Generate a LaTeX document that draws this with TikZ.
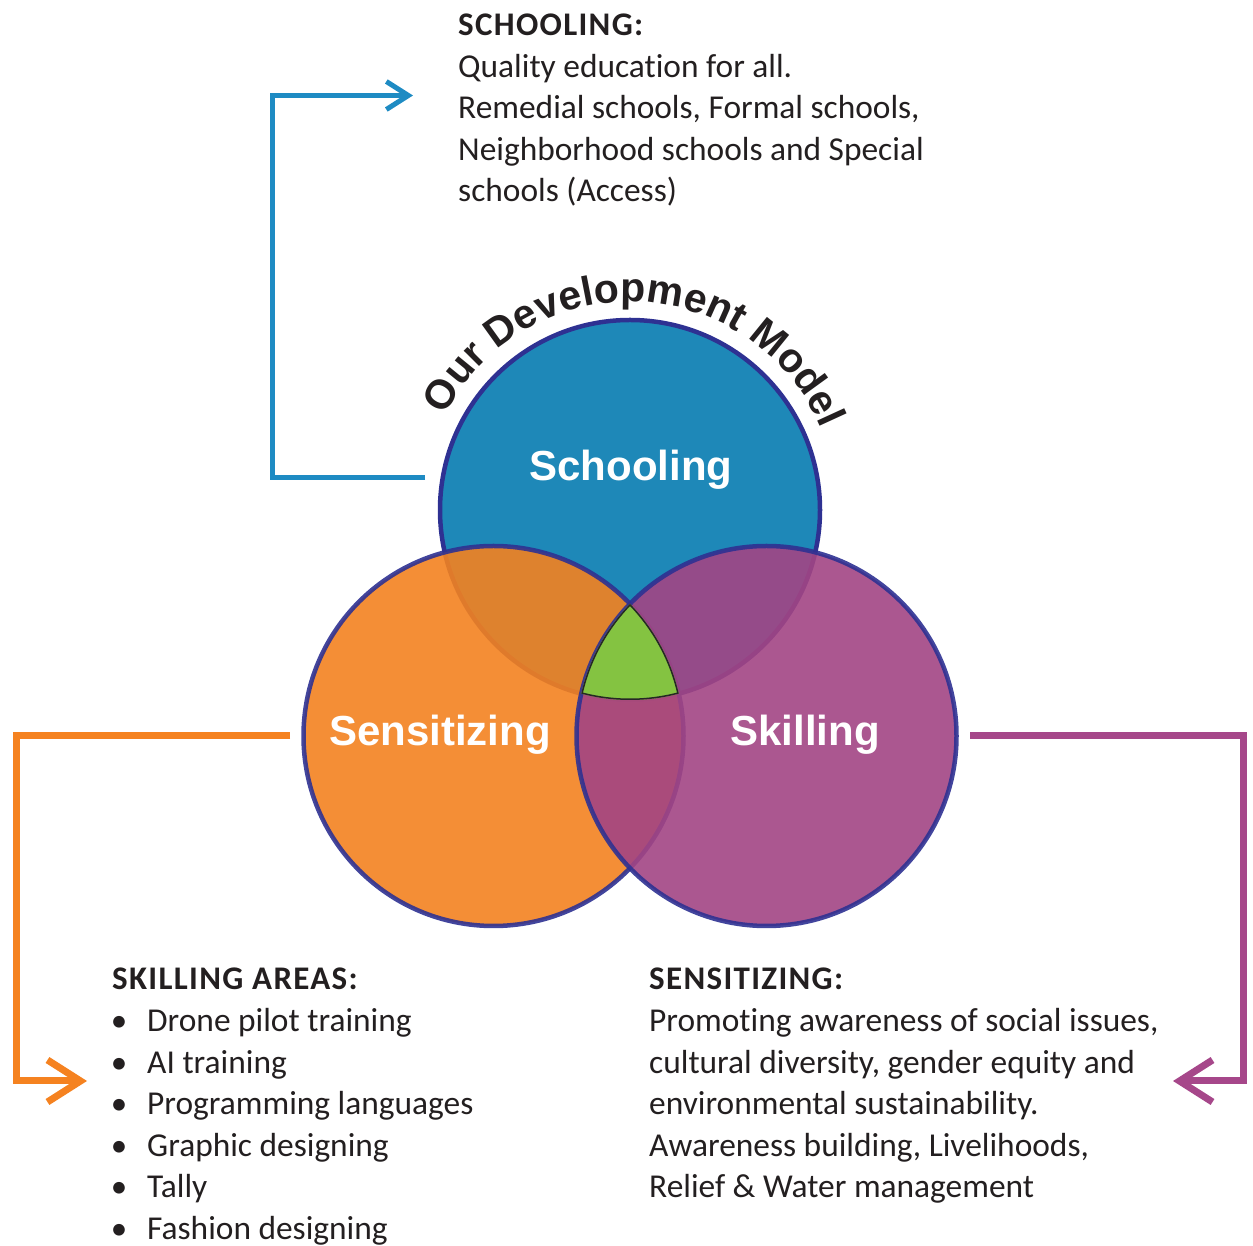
\documentclass[tikz,border=0pt]{standalone}
\usepackage{fontspec}
\setmainfont{Carlito}
\newfontfamily\bodyfont{Carlito}[Ligatures=NoCommon]
\newfontfamily\headfont{Carlito}[LetterSpace=4,Ligatures=NoCommon]
\newfontfamily\arialfont{Liberation Sans}
\usetikzlibrary{arrows.meta,decorations.text}
\definecolor{cblue}{HTML}{1E88B8}
\definecolor{corange}{HTML}{F38220}
\definecolor{cpurple}{HTML}{A24584}
\definecolor{cedge}{HTML}{2E3192}
\definecolor{cgreen}{HTML}{84C341}
\definecolor{ctext}{HTML}{231F20}
\definecolor{ablue}{HTML}{1E8BC3}
\definecolor{aorange}{HTML}{F58220}
\definecolor{apurple}{HTML}{A6478A}
\tikzset{
  venn/.style={circle, minimum size=380pt, inner sep=0pt, outer sep=0pt, draw=cedge, line width=4.5pt},
  lbl/.style={anchor=base, inner sep=0pt, text=white, font=\arialfont\bfseries\fontsize{42}{44}\selectfont},
  body/.style={anchor=base west, inner sep=0pt, text=ctext, font=\bodyfont\fontsize{33.4}{40}\selectfont},
  head/.style={anchor=base west, inner sep=0pt, text=ctext, font=\headfont\bfseries\fontsize{33}{40}\selectfont},
  bul/.style={anchor=base, inner sep=0pt, text=ctext, font=\bodyfont\fontsize{33}{40}\selectfont},
  conn/.style={line join=miter},
}
\begin{document}
\begin{tikzpicture}[x=1pt,y=1pt]
\useasboundingbox (0,0) rectangle (1253,1245);
% circles
\node[venn, fill=cblue] (schC) at (630,735) {};
\node[venn, fill=corange, fill opacity=0.9, draw opacity=0.9] (senC) at (493.5,509) {};
\node[venn, fill=cpurple, fill opacity=0.9, draw opacity=0.9] (skiC) at (766.5,509) {};
% centre
\begin{scope}
  \clip (630,735) circle (190);
  \clip (493.5,509) circle (190);
  \clip (766.5,509) circle (190);
  \fill[cgreen] (630,735) circle (190);
  \draw[black!85, line width=3pt] (630,735) circle (190) (493.5,509) circle (190) (766.5,509) circle (190);
\end{scope}
% labels
\node[lbl] (schL) at (631,764) {Schooling};
\node[lbl] (senL) at (440,499) {Sensitizing};
\node[lbl] (skiL) at (805,499) {Skilling};
% title on arc
\path[decorate, decoration={text along path, text align=center,
  text={|\arialfont\bfseries\fontsize{41}{44}\selectfont\color{ctext}|Our Development Model}}]
  (630,735) ++(178:208) arc[start angle=178, end angle=-2, radius=208];
% schooling text
\node[head] (t1) at (458,1209) {SCHOOLING:};
\node[body] (t2) at (458,1167) {Quality education for all.};
\node[body] (t3) at (458,1126) {Remedial schools, Formal schools,};
\node[body] (t4) at (458,1084) {Neighborhood schools and Special};
\node[body] (t5) at (458,1043) {schools (Access)};
% skilling areas
\node[head] (k0) at (112,255) {SKILLING AREAS:};
\foreach \y/\t [count=\i] in {213/Drone pilot training, 171.5/AI training, 130/Programming languages, 88.5/Graphic designing, 47/Tally, 5.5/Fashion designing}{
  \node[bul] (kb\i) at (119,\y) {•};
  \node[body] (k\i) at (147,\y) {\t};
}
% sensitizing
\node[head] (s0) at (649,255) {SENSITIZING:};
\node[body] (s1) at (649,213) {Promoting awareness of social issues,};
\node[body] (s2) at (649,171.5) {cultural diversity, gender equity and};
\node[body] (s3) at (649,130) {environmental sustainability.};
\node[body] (s4) at (649,88.5) {Awareness building, Livelihoods,};
\node[body] (s5) at (649,47) {Relief \& Water management};
% connectors
\coordinate (bS) at (425,767);
\coordinate (bE) at (413,1149.5);
\coordinate (oS) at (290,509);
\coordinate (oE) at (87,164);
\coordinate (pS) at (970,509);
\coordinate (pE) at (1173,164);
\draw[conn, ablue, line width=5pt, -{Straight Barb[length=22pt,width=28pt,sharp]}] (bS) -- (272.5,767) -- (272.5,1149.5) -- (bE);
\draw[conn, aorange, line width=7pt, -{Straight Barb[length=33pt,width=42pt,sharp]}] (oS) -- (16.5,509) -- (16.5,164) -- (oE);
\draw[conn, apurple, line width=7pt, -{Straight Barb[length=33pt,width=42pt,sharp]}] (pS) -- (1243,509) -- (1243,164) -- (pE);
\end{tikzpicture}
\end{document}
